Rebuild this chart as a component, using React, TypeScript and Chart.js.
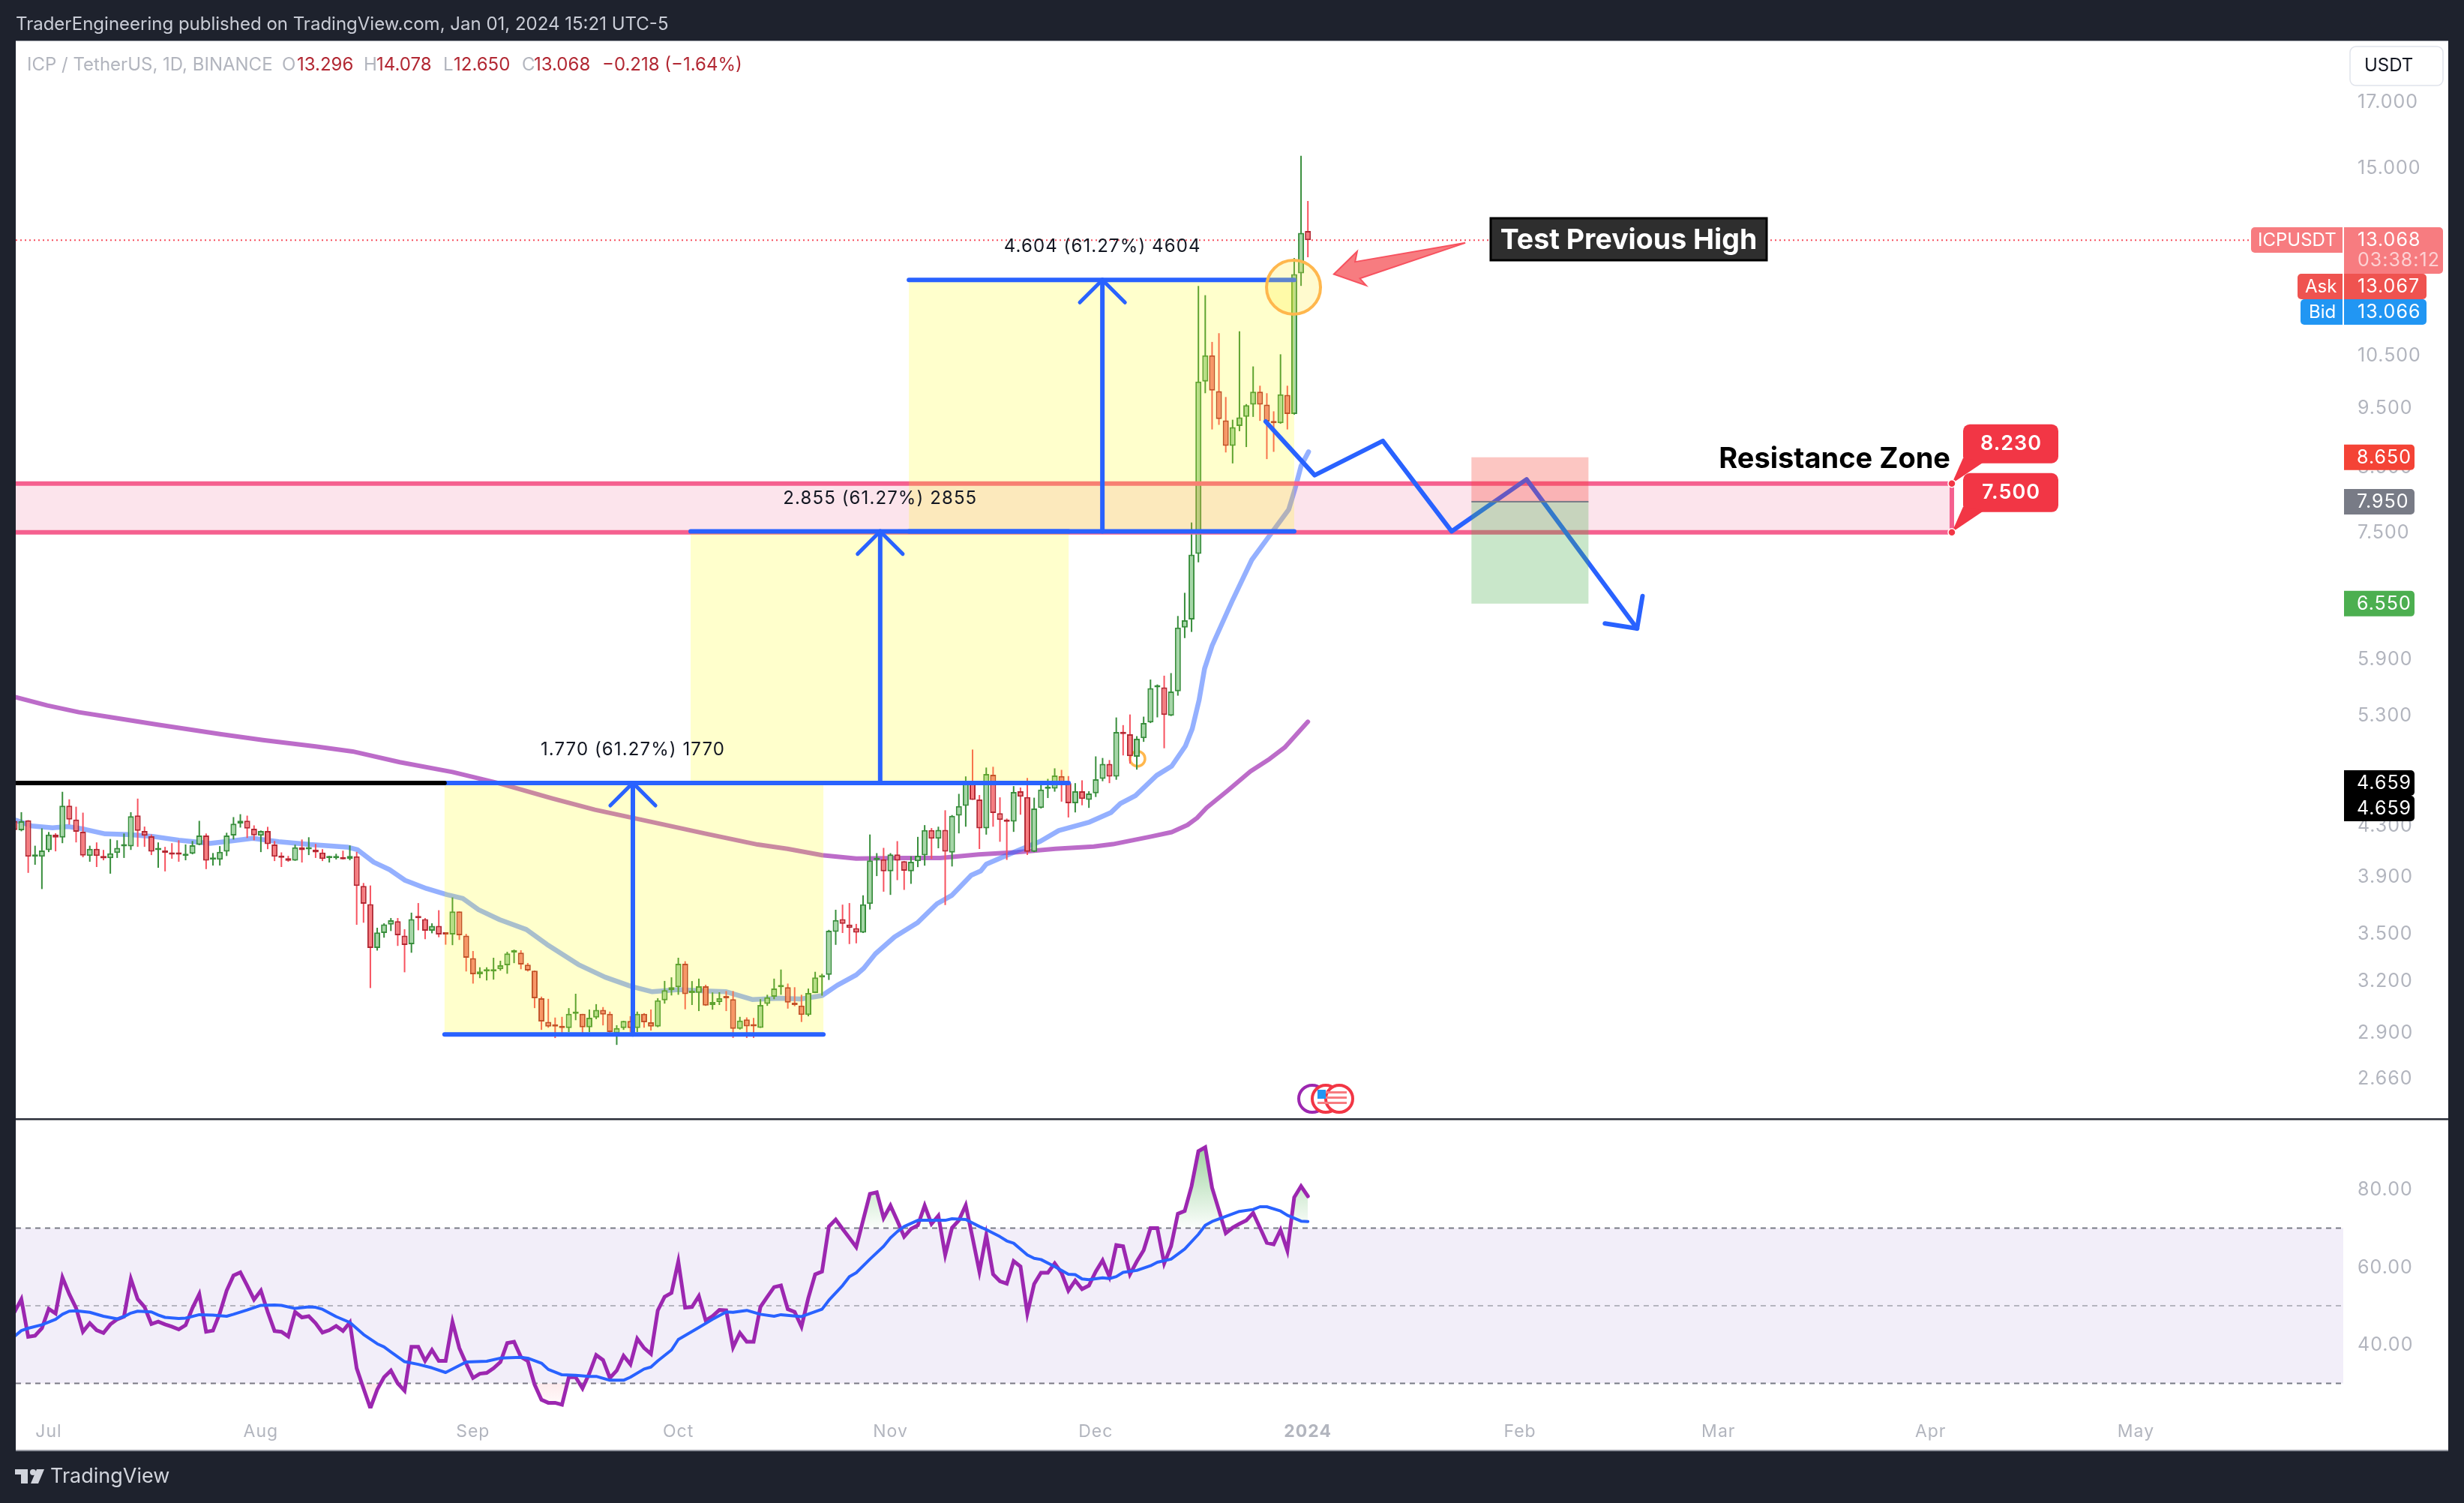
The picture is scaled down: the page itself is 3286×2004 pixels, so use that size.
import React, { useEffect, useRef } from "react";
import { Chart, registerables } from "chart.js";

Chart.register(...registerables);

const FONT = "Inter, 'Noto Sans', sans-serif";
const firstDay = -5;

const opens = [4.335,4.258,4.339,4.049,4.049,4.100,4.224,4.200,4.461,4.345,4.246,4.055,4.110,4.055,4.038,4.078,4.130,4.130,4.380,4.252,4.210,4.100,4.098,4.078,4.072,4.055,4.072,4.141,4.216,4.026,4.026,4.089,4.216,4.312,4.337,4.270,4.214,4.252,4.145,4.049,4.038,4.020,4.122,4.106,4.104,4.081,4.038,4.038,4.047,4.034,
4.053,3.830,3.701,3.405,3.503,3.560,3.582,3.486,3.429,3.610,3.597,3.518,3.551,3.497,3.493,3.649,3.486,3.340,3.239,3.256,3.256,3.270,3.295,3.376,3.374,3.298,3.261,3.094,2.959,2.936,2.932,2.924,3.004,3.004,2.928,2.983,3.027,3.004,2.895,2.924,2.964,2.924,3.004,2.956,2.932,3.082,3.142,
3.160,3.304,3.126,3.127,3.166,3.055,3.072,3.098,3.089,2.920,2.972,2.937,2.925,3.062,3.103,3.160,3.160,3.065,3.052,2.998,3.125,3.219,3.235,
3.511,3.596,3.560,3.535,3.505,3.702,4.024,4.030,3.938,4.067,4.015,3.938,4.015,4.059,4.260,4.191,4.262,4.082,4.378,4.460,4.657,4.515,4.273,4.731,4.399,4.340,4.329,4.586,4.535,4.087,4.443,4.607,4.609,4.720,4.657,4.482,4.586,4.511,4.568,4.695,4.831,4.715,5.133,5.111,4.897,5.072,5.226,5.587,5.587,5.293,
5.544,6.259,6.356,7.20,9.99,10.50,9.81,9.28,8.84,9.18,9.34,9.56,9.80,9.56,9.24,9.23,9.74,9.39,12.27,13.296];
const closes = [4.260,4.331,4.049,4.055,4.098,4.224,4.200,4.461,4.345,4.246,4.058,4.110,4.055,4.036,4.076,4.118,4.135,4.374,4.254,4.214,4.089,4.106,4.078,4.066,4.066,4.072,4.139,4.216,4.020,4.032,4.087,4.216,4.312,4.337,4.272,4.218,4.252,4.147,4.049,4.041,4.018,4.122,4.100,4.112,4.083,4.032,4.043,4.049,4.030,4.056,
3.830,3.703,3.405,3.507,3.561,3.589,3.488,3.424,3.597,3.603,3.518,3.551,3.493,3.493,3.649,3.488,3.342,3.239,3.256,3.261,3.270,3.295,3.369,3.380,3.300,3.262,3.095,2.961,2.932,2.932,2.924,3.004,3.008,2.928,2.982,3.027,3.000,2.902,2.924,2.964,2.924,3.004,2.957,2.932,3.082,3.142,3.160,
3.304,3.119,3.133,3.166,3.052,3.072,3.094,3.094,2.920,2.966,2.933,2.933,3.055,3.100,3.152,3.166,3.069,3.055,2.998,3.125,3.219,3.232,3.518,
3.590,3.564,3.537,3.505,3.699,4.021,4.034,3.938,4.067,4.019,3.943,4.011,4.057,4.260,4.191,4.262,4.088,4.376,4.458,4.657,4.511,4.273,4.738,4.400,4.342,4.327,4.580,4.538,4.087,4.438,4.600,4.618,4.725,4.657,4.482,4.586,4.519,4.566,4.692,4.831,4.715,5.133,5.113,4.902,5.067,5.220,5.578,5.596,5.302,5.542,
6.259,6.346,7.190,9.99,10.50,9.82,9.30,8.84,9.16,9.33,9.55,9.80,9.56,9.26,9.23,9.75,9.39,12.25,13.25,13.068];
const highs = [4.349,4.407,4.341,4.135,4.274,4.244,4.234,4.581,4.516,4.453,4.403,4.135,4.161,4.102,4.188,4.178,4.232,4.407,4.522,4.288,4.224,4.161,4.126,4.155,4.178,4.145,4.172,4.335,4.232,4.078,4.132,4.238,4.366,4.390,4.378,4.298,4.256,4.286,4.172,4.083,4.056,4.143,4.184,4.202,4.149,4.108,4.056,4.072,4.096,4.137,
4.087,3.852,3.834,3.538,3.568,3.604,3.604,3.528,3.641,3.708,3.604,3.568,3.658,3.498,3.748,3.649,3.497,3.385,3.282,3.282,3.342,3.323,3.380,3.394,3.390,3.309,3.262,3.104,3.091,2.983,2.987,3.037,3.121,3.004,3.029,3.060,3.043,3.017,2.940,2.965,2.991,3.017,3.008,3.029,3.095,3.198,3.220,
3.342,3.320,3.197,3.212,3.175,3.129,3.130,3.137,3.137,2.987,2.984,2.981,3.089,3.115,3.212,3.268,3.182,3.160,3.115,3.152,3.254,3.242,3.524,
3.661,3.697,3.708,3.564,3.763,4.224,4.077,4.118,4.077,4.171,4.017,4.053,4.205,4.300,4.276,4.287,4.423,4.383,4.563,4.717,4.964,4.553,4.797,4.804,4.533,4.354,4.631,4.618,4.703,4.530,4.657,4.695,4.790,4.776,4.720,4.657,4.682,4.586,4.900,4.885,4.866,5.276,5.200,5.306,5.092,5.284,5.670,5.617,5.712,5.740,
6.398,6.686,7.642,11.98,11.77,10.77,10.95,9.70,9.29,10.99,9.57,10.28,9.91,9.77,9.44,10.52,9.91,12.63,15.34,14.078];
const lows = [4.254,4.250,3.927,3.988,3.808,4.085,4.091,4.155,4.304,4.161,4.045,4.011,3.971,4.022,3.921,4.040,4.040,4.102,4.126,4.126,4.062,3.965,3.938,4.034,4.011,4.022,4.068,4.139,3.955,3.982,3.982,4.055,4.184,4.280,4.196,4.178,4.085,4.108,4.016,3.971,4.011,4.018,4.005,4.062,4.040,4.016,4.005,4.028,4.028,4.022,
3.558,3.572,3.155,3.388,3.472,3.516,3.418,3.251,3.374,3.521,3.462,3.501,3.475,3.426,3.423,3.457,3.256,3.182,3.215,3.201,3.206,3.261,3.242,3.308,3.270,3.256,3.037,2.914,2.926,2.869,2.899,2.902,2.968,2.878,2.902,2.974,2.939,2.881,2.832,2.914,2.902,2.902,2.926,2.910,2.929,3.063,3.111,
3.115,3.030,3.055,3.020,3.050,3.028,3.055,3.020,2.870,2.916,2.870,2.870,2.925,3.050,3.089,3.115,3.034,3.048,2.958,2.990,3.125,3.110,3.204,
3.425,3.503,3.430,3.435,3.503,3.663,3.903,3.789,3.766,3.873,3.802,3.846,3.970,3.981,4.032,4.115,3.694,3.975,4.233,4.287,4.511,4.109,4.223,4.287,4.166,4.025,4.245,4.386,4.063,4.085,4.438,4.527,4.582,4.496,4.363,4.405,4.465,4.443,4.536,4.674,4.657,4.687,4.909,4.833,4.778,5.037,5.220,5.277,4.976,5.290,
5.499,6.135,6.207,7.085,9.77,9.12,9.20,8.73,8.55,9.09,8.82,9.34,9.27,8.62,8.74,9.22,9.12,9.38,11.98,12.650];

const ema50Days = [-4.8,-2.5,0.56,2.87,5.18,8.25,11.71,15.17,19,23.6,26.7,29.8,33.6,38.2,43.6,45.1,47.5,49.8,52.07,55.2,58.2,60.5,62.8,65.9,69.8,72.8,77.4,81.3,85.1,88.2,92,95.9,99,102.8,106.7,109.9,113,115.2,118,119.1,120.8,123.6,127,129.8,132,134.8,136.2,137,141.5,144.9,147.6,152.1,155.2,156.6,158.8,161.9,164.1,166.1,167.1,168.1,168.9,170,173,175.8,178.6,181.2,182.1,183,184.1];
const ema50Values = [4.340,4.293,4.278,4.288,4.267,4.229,4.223,4.209,4.179,4.153,4.173,4.193,4.167,4.144,4.124,4.104,4.007,3.951,3.872,3.812,3.768,3.741,3.662,3.593,3.526,3.428,3.299,3.221,3.165,3.133,3.146,3.138,3.133,3.087,3.094,3.090,3.110,3.171,3.235,3.276,3.367,3.477,3.574,3.703,3.764,3.909,3.941,3.992,4.095,4.170,4.256,4.325,4.403,4.480,4.548,4.726,4.810,4.997,5.163,5.452,5.788,6.046,6.595,7.118,7.48,7.832,8.14,8.508,8.741];
const ema200Days = [-4.8,-0.2,4.41,9.02,15.94,25.2,31.3,39,44.4,51.3,59,65.9,73.6,79.8,88.2,95.9,103.6,107.95,113,118,124.7,130.3,135.9,141.5,147.1,152.7,155.5,161.1,164.1,166.4,167.8,169.2,172.3,175.6,178.4,180.6,182.3,184];
const ema200Values = [5.483,5.398,5.329,5.279,5.204,5.111,5.054,4.993,4.946,4.846,4.756,4.654,4.524,4.428,4.325,4.232,4.144,4.111,4.061,4.035,4.040,4.040,4.067,4.085,4.111,4.128,4.147,4.208,4.243,4.301,4.359,4.444,4.592,4.762,4.876,4.983,5.106,5.233];

const rsiValues = [48.4,51.7,42.0,42.3,44.2,49.2,48.0,57.3,53.0,49.4,43.3,45.5,43.7,43.0,45.2,46.5,47.2,56.9,51.7,49.7,45.3,45.9,45.2,44.6,43.9,45.0,49.4,53.0,43.3,43.6,48.1,53.9,57.8,58.6,55.2,51.6,53.9,48.4,43.5,43.3,42.1,48.4,47.0,47.3,45.5,43.1,43.7,44.8,43.5,45.7,33.9,28.7,23.6,28.4,31.6,33.3,30.0,28.1,39.4,39.4,35.8,38.6,35.8,35.8,45.8,39.1,35.1,31.4,32.5,32.7,33.9,35.5,40.4,40.7,36.8,35.8,29.7,25.8,25.0,25.0,24.5,31.6,31.6,28.7,32.6,37.3,36.0,31.4,33.3,37.1,34.9,41.5,39.1,37.6,48.8,52.3,53.3,61.4,49.5,49.7,52.5,46.2,47.3,48.9,48.8,39.3,43.0,40.7,40.7,49.7,52.3,54.8,55.2,49.1,48.4,44.6,52.0,58.1,58.8,70.4,72.2,69.8,67.5,65.1,72.0,78.8,79.2,72.6,75.8,71.9,67.8,69.8,70.7,75.8,71.1,73.2,63.1,70.1,72.0,75.9,67.5,58.8,68.2,58.1,56.3,55.7,61.5,60.1,48.0,55.6,58.5,58.5,60.9,58.5,53.9,56.5,54.3,55.2,58.8,61.7,57.5,65.6,65.3,58.1,61.4,64.3,70.0,70.0,60.9,65.3,73.7,74.4,80.8,89.8,90.8,80.4,74.6,68.7,70.1,71.1,72.0,73.9,70.1,66.2,65.8,69.5,64.2,77.9,80.8,78.2];
const rsiMaDays = [-5,-4,-3,-1,1,2,3,4,6,8,10,11,12,13,15,16,17,19,20,22,24,26,27,29,31,33,34,36,38,39,40,42,44,46,48,49,50,52,54,56,58,61,64,66,69,70,72,73,75,77,79,80,82,84,85,87,88,89,91,92,95,97,99,100,102,104,106,107,110,113,114,116,117,118,120,122,123,124,125,127,128,130,131,132,134,136,137,139,140,141,143,144,145,147,149,150,151,152,154,155,156,157,159,161,162,164,166,168,169,170,172,174,176,177,178,180,181,183,184];
const rsiMaValues = [42.1,43.6,44.2,45.1,46.5,47.8,48.6,48.7,48.3,47.3,46.6,47.2,48.1,48.6,48.4,47.6,47.0,46.7,46.8,47.7,47.6,47.3,47.8,48.9,50.1,50.2,50.1,49.3,49.7,49.6,49.1,47.2,45.7,42.6,40.2,39.4,38.1,35.6,34.9,34.0,32.8,35.5,35.7,36.5,36.7,36.5,35.2,33.6,32.2,32.1,31.8,31.8,30.8,30.8,31.6,33.7,34.2,35.8,38.6,41.3,44.4,46.5,48.4,48.3,48.8,47.8,47.3,47.7,47.2,49.1,51.4,55.2,57.5,58.5,62.0,65.3,67.5,69.1,70.4,72.0,72.0,72.0,72.0,72.4,72.2,70.4,69.6,67.8,66.7,66.1,63.1,62.2,61.9,60.1,58.1,58.0,56.9,56.7,57.2,57.0,57.5,58.6,59.1,60.3,61.2,62.0,64.6,68.4,70.7,71.7,73.0,74.3,74.8,75.5,75.5,74.4,73.3,71.8,71.7];

const priceTicks = [17, 15, 10.5, 9.5, 8.5, 7.5, 5.9, 5.3, 4.3, 3.9, 3.5, 3.2, 2.9, 2.66];
const rsiTicks = [80, 60, 40];
const monthDays = [0, 31, 62, 92, 123, 153, 184, 215, 244, 275, 305];
const monthLabels = ["Jul", "Aug", "Sep", "Oct", "Nov", "Dec", "2024", "Feb", "Mar", "Apr", "May"];

const measureLefts = [57.84, 93.8, 125.7];
const measureRights = [113.2, 149.04, 182.0];
const measureBottoms = [2.889, 4.659, 7.514];
const measureTops = [4.659, 7.514, 12.118];
const measureArrows = [85.36, 121.5, 153.97];
const measureTexts = ["1.770 (61.27%) 1770", "2.855 (61.27%) 2855", "4.604 (61.27%) 4604"];

const zigzagDays = [177.83, 184.99, 194.95, 205.0, 215.95, 232.1];
const zigzagPrices = [9.26, 8.36, 8.924, 7.515, 8.295, 6.248];
const zigzagHeadDays = [227.4, 232.1, 232.9];
const zigzagHeadPrices = [6.308, 6.248, 6.645];

const zonePrices = [8.23, 7.5];
const zoneEndDay = 278.1;
const positionDays = [207.9, 225.0];
const positionPrices = [8.65, 7.95, 6.55];
const pointerDays = [187.8, 191.2, 190.9, 207, 191.6, 192.5];
const pointerPrices = [12.25, 12.79, 12.54, 13.0, 12.15, 11.99];

const lastClose = 13.068;
const previousHigh = 4.659;

const BLUE = "#2962FF";

function line(days: number[], prices: number[], color: string, width: number, order: number, axis = "y") {
  return {
    type: "line",
    data: days.map((x, i) => ({ x, y: prices[i] })),
    borderColor: color,
    borderWidth: width,
    pointRadius: 0,
    tension: 0,
    order,
    yAxisID: axis,
    borderCapStyle: "round",
    borderJoinStyle: "round",
    fill: false,
  };
}

export default function App() {
  const ref = useRef<HTMLCanvasElement>(null);
  useEffect(() => {
    const canvas = ref.current!;
    const ctx0 = canvas.getContext("2d")!;
    const days = opens.map((_, i) => i + firstDay);
    const up = opens.map((o, i) => closes[i] >= o);

    const overGrad = ctx0.createLinearGradient(0, 1525, 0, 1638);
    overGrad.addColorStop(0, "rgba(76,175,80,0.55)");
    overGrad.addColorStop(1, "rgba(76,175,80,0.02)");
    const underGrad = ctx0.createLinearGradient(0, 1845, 0, 1880);
    underGrad.addColorStop(0, "rgba(242,54,69,0.1)");
    underGrad.addColorStop(1, "rgba(242,54,69,0)");

    const drawingLines: any[] = [];
    drawingLines.push(line([-6, measureLefts[0]], [previousHigh, previousHigh], "#000000", 6, 5));
    measureLefts.forEach((l, i) => {
      const r = measureRights[i];
      const a = measureArrows[i];
      const b = measureBottoms[i];
      const t = measureTops[i];
      drawingLines.push(line([l, r], [b, b], BLUE, 6, 5));
      drawingLines.push(line([l, r], [t, t], BLUE, 6, 5));
      drawingLines.push(line([a, a], [b, t], BLUE, 6, 5));
      drawingLines.push(line([a - 3.3, a, a + 3.3], [t * 0.958, t, t * 0.958], BLUE, 5, 5));
    });
    const zigzag = line(zigzagDays, zigzagPrices, BLUE, 6, 4);
    const zigzagHead = line(zigzagHeadDays, zigzagHeadPrices, BLUE, 6, 3);
    const ema50 = line(ema50Days, ema50Values, "rgba(41,98,255,0.5)", 6.5, 19);

    const datasets: any[] = [
      line(ema200Days, ema200Values, "rgba(156,39,176,0.68)", 6, 20),
      ema50,
      {
        type: "bar",
        data: days.map((x, i) => ({ x, y: [lows[i], highs[i]] })),
        backgroundColor: up.map((u) => (u ? "#388E3C" : "#F7525F")),
        barThickness: 2,
        grouped: false,
        borderWidth: 0,
        inflateAmount: 0,
        order: 18,
        yAxisID: "y",
      },
      {
        type: "bar",
        data: days.map((x, i) => ({ x, y: [Math.min(opens[i], closes[i]), Math.max(opens[i], closes[i])] })),
        backgroundColor: up.map((u) => (u ? "#A5D6A7" : "#F77C80")),
        borderColor: up.map((u) => (u ? "#388E3C" : "#B22833")),
        borderWidth: 2,
        borderSkipped: false,
        barThickness: 8,
        grouped: false,
        minBarLength: 3,
        inflateAmount: 0,
        order: 17,
        yAxisID: "y",
      },
      ...drawingLines,
      zigzag,
      zigzagHead,
      {
        ...line(days, rsiValues, "rgba(0,0,0,0)", 0, 16, "yRsi"),
        fill: { target: { value: 30 }, above: "rgba(0,0,0,0)", below: underGrad },
      },
      {
        ...line(days, rsiValues, "#9C27B0", 5, 15, "yRsi"),
        fill: { target: { value: 70 }, above: overGrad, below: "rgba(0,0,0,0)" },
        borderJoinStyle: "miter",
      },
      line(rsiMaDays, rsiMaValues, BLUE, 4, 14, "yRsi"),
    ];
    const EMA_INDEX = datasets.indexOf(ema50);
    const BODY_INDEX = 3;
    const ZIGZAG_INDEX = datasets.indexOf(zigzag);

    const txt = (ctx: any, s: string, x: number, y: number, font: string, color: string, align: CanvasTextAlign = "left", spacing = "0px") => {
      ctx.font = font;
      ctx.letterSpacing = spacing;
      ctx.fillStyle = color;
      ctx.textAlign = align;
      ctx.textBaseline = "middle";
      ctx.fillText(s, x, y);
      ctx.letterSpacing = "1px";
    };
    const rr = (ctx: CanvasRenderingContext2D, x: number, y: number, w: number, h: number, r: number | number[], fill: string) => {
      ctx.beginPath();
      ctx.roundRect(x, y, w, h, r as any);
      ctx.fillStyle = fill;
      ctx.fill();
    };

    const overlay = {
      id: "overlay",
      beforeDraw(chart: any) {
        const c = chart.ctx;
        c.letterSpacing = "1px";
        c.save();
        c.fillStyle = "#1E222D";
        c.fillRect(0, 0, 3286, 2004);
        c.fillStyle = "#FFFFFF";
        c.fillRect(21, 54, 3244, 1880);
        c.restore();
      },
      beforeDatasetsDraw(chart: any) {
        const c = chart.ctx;
        const { x, y, yRsi } = chart.scales;
        c.save();
        const y70 = yRsi.getPixelForValue(70);
        const y50 = yRsi.getPixelForValue(50);
        const y30 = yRsi.getPixelForValue(30);
        c.fillStyle = "rgba(126,87,194,0.1)";
        c.fillRect(x.left, y70, x.right - x.left, y30 - y70);
        c.lineWidth = 2;
        c.setLineDash([7, 6]);
        [
          [y70, "#787B86"],
          [y50, "rgba(120,123,134,0.5)"],
          [y30, "#787B86"],
        ].forEach(([yy, col]: any) => {
          c.strokeStyle = col;
          c.beginPath();
          c.moveTo(x.left, yy);
          c.lineTo(x.right, yy);
          c.stroke();
        });
        const yl = y.getPixelForValue(lastClose);
        c.setLineDash([2, 4]);
        c.strokeStyle = "#F7525F";
        c.beginPath();
        c.moveTo(x.left, yl);
        c.lineTo(3002, yl);
        c.stroke();
        c.restore();
      },
      afterDatasetDraw(chart: any, args: any) {
        const c = chart.ctx;
        const { x, y } = chart.scales;
        const px = (d: number) => x.getPixelForValue(d);
        const py = (v: number) => y.getPixelForValue(v);
        if (args.index === EMA_INDEX) {
          c.save();
          c.strokeStyle = "#FFB74D";
          c.lineWidth = 3.5;
          c.beginPath();
          c.arc(px(159.1), py(4.878), 10, 0, Math.PI * 2);
          c.stroke();
          c.restore();
        }
        if (args.index === BODY_INDEX) {
          c.save();
          c.beginPath();
          c.rect(x.left, y.top, x.right - x.left, y.bottom - y.top);
          c.clip();
          const zt = py(zonePrices[0]);
          const zb = py(zonePrices[1]);
          const ze = px(zoneEndDay);
          c.fillStyle = "rgba(233,30,99,0.12)";
          c.fillRect(x.left, zt, ze - x.left, zb - zt);
          c.strokeStyle = "#F5608F";
          c.lineWidth = 6;
          c.beginPath();
          c.moveTo(x.left, zt);
          c.lineTo(ze, zt);
          c.lineTo(ze, zb);
          c.lineTo(x.left, zb);
          c.stroke();
          measureLefts.forEach((l, i) => {
            const a = px(l);
            const b = px(measureRights[i]);
            const t = py(measureTops[i]);
            const bt = py(measureBottoms[i]);
            c.fillStyle = "rgba(255,255,0,0.2)";
            c.fillRect(a, t, b - a, bt - t);
          });
          c.restore();
        }
        if (args.index === ZIGZAG_INDEX) {
          c.save();
          const l = px(positionDays[0]);
          const r = px(positionDays[1]);
          const t = py(positionPrices[0]);
          const m = py(positionPrices[1]);
          const b = py(positionPrices[2]);
          c.fillStyle = "rgba(244,67,54,0.3)";
          c.fillRect(l, t, r - l, m - t);
          c.fillStyle = "rgba(76,175,80,0.3)";
          c.fillRect(l, m, r - l, b - m);
          c.fillStyle = "#787B86";
          c.fillRect(l, m - 1, r - l, 2);
          c.restore();
        }
      },
      afterDraw(chart: any) {
        const c = chart.ctx;
        const { x, y } = chart.scales;
        const px = (d: number) => x.getPixelForValue(d);
        const py = (v: number) => y.getPixelForValue(v);
        c.save();
        measureTexts.forEach((s, i) => {
          txt(c, s, px(measureArrows[i]), py(measureTops[i]) - 44, `24px ${FONT}`, "#131722", "center", "1.1px");
        });
        c.fillStyle = "rgba(255,235,59,0.25)";
        c.strokeStyle = "#FFB74D";
        c.lineWidth = 4;
        c.beginPath();
        c.arc(px(181.9), py(11.95), 36, 0, Math.PI * 2);
        c.fill();
        c.stroke();
        c.beginPath();
        pointerDays.forEach((d, i) => {
          const X = px(d);
          const Y = py(pointerPrices[i]);
          if (i === 0) c.moveTo(X, Y);
          else c.lineTo(X, Y);
        });
        c.closePath();
        c.fillStyle = "#F77C80";
        c.fill();
        c.strokeStyle = "#F7525F";
        c.lineWidth = 2;
        c.stroke();
        c.fillStyle = "#2E2E2E";
        c.strokeStyle = "#000000";
        c.lineWidth = 3;
        c.fillRect(1988, 291, 368, 56);
        c.strokeRect(1988, 291, 368, 56);
        txt(c, "Test Previous High", 2172, 320.5, `700 37.5px ${FONT}`, "#FFFFFF", "center");
        txt(c, "Resistance Zone", 2601, 613, `700 38px ${FONT}`, "#000000", "right");
        const ze = px(zoneEndDay);
        zonePrices.forEach((v) => {
          const Y = py(v);
          const by = Y - 79;
          rr(c, 2618, by, 127, 52, 9, "#F23645");
          c.beginPath();
          c.moveTo(ze, Y);
          c.lineTo(2618, by + 45);
          c.lineTo(2646, by + 50);
          c.closePath();
          c.fillStyle = "#F23645";
          c.fill();
          txt(c, v.toFixed(3), 2682, by + 26, `600 27px ${FONT}`, "#FFFFFF", "center", "1px");
          c.beginPath();
          c.arc(ze, Y, 5, 0, Math.PI * 2);
          c.fillStyle = "#F23645";
          c.fill();
          c.strokeStyle = "#FFFFFF";
          c.lineWidth = 1.5;
          c.stroke();
        });
        [[1750, "#9C27B0"], [1768, "#F23645"], [1786, "#F23645"]].forEach(([cx, col]: any) => {
          c.beginPath();
          c.arc(cx, 1465, 18, 0, Math.PI * 2);
          c.fillStyle = "#FFFFFF";
          c.fill();
          c.strokeStyle = col;
          c.lineWidth = 4;
          c.stroke();
        });
        c.fillStyle = "#F77C80";
        c.fillRect(1757, 1455, 24, 3);
        c.fillRect(1757, 1462, 24, 3);
        c.fillRect(1757, 1469, 24, 3);
        c.fillStyle = "#2196F3";
        c.fillRect(1757, 1453, 11, 12);
        c.fillStyle = "#F77C80";
        c.fillRect(1776, 1455, 20, 3);
        c.fillRect(1776, 1462, 20, 3);
        c.fillRect(1776, 1469, 20, 3);

        c.fillStyle = "#2A2E39";
        c.fillRect(21, 1491, 3244, 2.5);
        c.fillStyle = "#9598A1";
        c.fillRect(21, 1933, 3244, 2);
        c.fillRect(21, 54, 3244, 1);

        const F = `24px ${FONT}`;
        const V = `25px ${FONT}`;
        const A = 3126;
        rr(c, 3002, 303, 122, 34, [5, 0, 0, 5], "#F77C80");
        txt(c, "ICPUSDT", 3011, 320.5, F, "#FFFFFF");
        rr(c, A, 303, 132, 62, [0, 5, 5, 0], "#F77C80");
        txt(c, "13.068", 3144, 320.5, V, "#FFFFFF", "left", "1px");
        txt(c, "03:38:12", 3144, 347.5, V, "rgba(255,255,255,0.65)", "left", "1px");
        rr(c, 3064, 365, 60, 34, [5, 0, 0, 5], "#EF5350");
        txt(c, "Ask", 3074, 383, F, "#FFFFFF");
        rr(c, A, 365, 110, 34, [0, 5, 5, 0], "#EF5350");
        txt(c, "13.067", 3144, 382, V, "#FFFFFF", "left", "1px");
        rr(c, 3068, 399, 56, 34, [5, 0, 0, 5], "#2196F3");
        txt(c, "Bid", 3079, 416.5, F, "#FFFFFF");
        rr(c, A, 399, 110, 34, [0, 5, 5, 0], "#2196F3");
        txt(c, "13.066", 3144, 416, V, "#FFFFFF", "left", "1px");
        const tag = (v: number, col: string, yy: number) => {
          rr(c, A, yy - 17, 94, 34, [0, 5, 5, 0], col);
          txt(c, v.toFixed(3), 3143, yy + 0.5, V, "#FFFFFF", "left", "1px");
        };
        tag(positionPrices[0], "#F44336", py(positionPrices[0]));
        tag(positionPrices[1], "#787B86", py(positionPrices[1]));
        tag(positionPrices[2], "#4CAF50", py(positionPrices[2]));
        tag(previousHigh, "#000000", 1044);
        tag(previousHigh, "#000000", 1078);
        c.beginPath();
        c.roundRect(3134, 62, 124, 52, 8);
        c.fillStyle = "#FFFFFF";
        c.fill();
        c.strokeStyle = "#E0E3EB";
        c.lineWidth = 1.5;
        c.stroke();
        txt(c, "USDT", 3153, 87.5, F, "#131722");

        txt(c, "TraderEngineering published on TradingView.com, Jan 01, 2024 15:21 UTC-5", 21, 32.5, `24px ${FONT}`, "#C9CCD6");
        const G = "#B2B5BE";
        const R = "#B22833";
        const L = `24px ${FONT}`;
        txt(c, "ICP / TetherUS, 1D, BINANCE", 36, 87, L, G);
        txt(c, "O", 376, 87, L, G);
        txt(c, "13.296", 396, 87, L, R);
        txt(c, "H", 485, 87, L, G);
        txt(c, "14.078", 502, 87, L, R);
        txt(c, "L", 591, 87, L, G);
        txt(c, "12.650", 605, 87, L, R);
        txt(c, "C", 696, 87, L, G);
        txt(c, "13.068", 712, 87, L, R);
        txt(c, "\u22120.218 (\u22121.64%)", 803, 87, L, R);

        c.fillStyle = "#D1D4DC";
        c.fillRect(20, 1959, 17, 7);
        c.fillRect(28, 1966, 9, 12);
        c.beginPath();
        c.arc(44, 1963, 4, 0, Math.PI * 2);
        c.fill();
        c.beginPath();
        c.moveTo(49, 1959);
        c.lineTo(59, 1959);
        c.lineTo(51, 1978);
        c.lineTo(41, 1978);
        c.closePath();
        c.fill();
        txt(c, "TradingView", 67, 1969, `27px ${FONT}`, "#D1D4DC");
        c.restore();
      },
    };

    const chart = new Chart(canvas, {
      type: "bar",
      data: { datasets },
      plugins: [overlay],
      options: {
        responsive: false,
        animation: false,
        events: [],
        layout: { padding: { left: 21, right: 21, top: 55, bottom: 70 } },
        plugins: { legend: { display: false }, tooltip: { enabled: false }, title: { display: false } },
        scales: {
          x: {
            type: "linear",
            offset: false,
            min: -4.82,
            max: 335.3,
            grid: { display: false, drawTicks: false },
            border: { display: false },
            afterFit: (s: any) => {
              s.height = 56;
            },
            afterBuildTicks: (s: any) => {
              s.ticks = monthDays.map((value) => ({ value }));
            },
            ticks: {
              autoSkip: false,
              maxRotation: 0,
              includeBounds: false,
              padding: 17,
              color: "#B2B5BE",
              callback: (v: any) => monthLabels[monthDays.indexOf(Number(v))],
              font: (c: any) => ({ family: FONT, size: 23, weight: c.tick && c.tick.value === 184 ? "bold" : "normal" }),
            },
          },
          y: {
            type: "logarithmic",
            position: "right",
            stack: "panes",
            stackWeight: 1437,
            min: 2.46,
            max: 19.07,
            grid: { display: false, drawTicks: false },
            border: { display: false },
            afterFit: (s: any) => {
              s.width = 140;
            },
            afterBuildTicks: (s: any) => {
              s.ticks = priceTicks.map((value) => ({ value }));
            },
            ticks: {
              autoSkip: false,
              crossAlign: "near",
              padding: 19,
              labelOffset: 1,
              color: "#B2B5BE",
              font: { family: FONT, size: 25 },
              callback: (v: any) => Number(v).toFixed(3),
            },
          },
          yRsi: {
            type: "linear",
            position: "right",
            stack: "panes",
            stackWeight: 386,
            min: 23.53,
            max: 98.1,
            grid: { display: false, drawTicks: false },
            border: { display: false },
            afterFit: (s: any) => {
              s.width = 140;
            },
            afterBuildTicks: (s: any) => {
              s.ticks = rsiTicks.map((value) => ({ value }));
            },
            ticks: {
              autoSkip: false,
              crossAlign: "near",
              padding: 19,
              labelOffset: 1,
              color: "#B2B5BE",
              font: { family: FONT, size: 25 },
              callback: (v: any) => Number(v).toFixed(2),
            },
          },
        },
      } as any,
    } as any);
    return () => chart.destroy();
  }, []);
  return <canvas ref={ref} width={3286} height={2004} style={{ position: "absolute", left: 0, top: 0, display: "block" }} />;
}
